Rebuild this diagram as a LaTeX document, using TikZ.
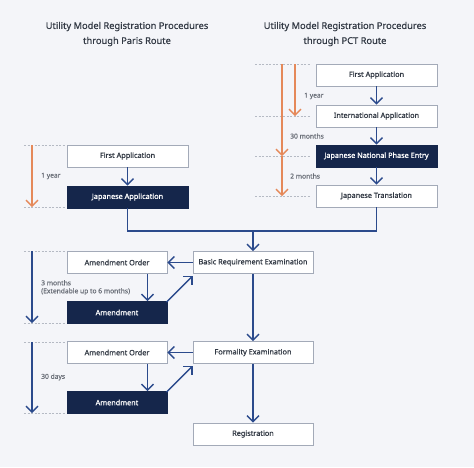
\documentclass[tikz,border=0pt]{standalone}
\usepackage{fontspec}
\setmainfont{Noto Sans}
\newfontfamily\medfont[FakeBold=0.9]{Noto Sans}
\newfontfamily\ttlfont[FakeBold=0.6]{Noto Sans}
\newfontfamily\labfont[FakeBold=0.4]{Noto Sans}
\usetikzlibrary{arrows.meta,calc}
\definecolor{bgc}{HTML}{F4F5F9}
\definecolor{navy}{HTML}{15264B}
\definecolor{lineblue}{HTML}{2B4A8C}
\definecolor{orng}{HTML}{E5895A}
\definecolor{boxgrey}{HTML}{A3AAB8}
\definecolor{txt}{HTML}{333A45}
\definecolor{lbl}{HTML}{6A6F78}
\definecolor{dashc}{HTML}{B5BAC4}
\tikzset{
  box/.style={draw=boxgrey, fill=white, line width=0.8pt, minimum height=22pt, inner sep=0pt,
    font=\medfont\fontsize{7.3}{8.5}\selectfont, text=txt},
  darkbox/.style={box, draw=navy, fill=navy, text=white},
  wbox/.style={minimum width=121pt},
  nbox/.style={minimum width=100pt},
  arr/.style={draw=lineblue, line width=1.4pt, -{Straight Barb[length=6pt,width=12pt,line width=1.4pt]}},
  flow/.style={draw=lineblue, line width=1.4pt},
  oarr/.style={draw=orng, line width=1.3pt, -{Straight Barb[length=6pt,width=12pt,line width=1.3pt]}},
  barr/.style={draw=lineblue, line width=1.3pt, -{Straight Barb[length=6pt,width=12pt,line width=1.3pt]}},
  guide/.style={draw=dashc, line width=0.6pt, dash pattern=on 2pt off 1.5pt},
  lab/.style={font=\labfont\fontsize{6.7}{8}\selectfont, text=lbl, anchor=west, inner sep=0pt, align=left},
  title/.style={font=\ttlfont\fontsize{9.3}{15}\selectfont, text=txt, align=center}
}
\begin{document}
\begin{tikzpicture}[x=1pt,y=-1pt]
\fill[bgc] (0,0) rectangle (474,467);
\useasboundingbox (0,0) rectangle (474,467);

% titles
\node[title] (t1) at (127,34) {Utility Model Registration Procedures\\through Paris Route};
\node[title] (t2) at (345,34) {Utility Model Registration Procedures\\through PCT Route};

% left (Paris) column
\node[box,wbox] (pFA) at (127.5,156) {First Application};
\node[darkbox,wbox] (pJA) at (127.5,197) {Japanese Application};

% right (PCT) column
\node[box,wbox] (cFA) at (376.5,75) {First Application};
\node[box,wbox] (cIA) at (376.5,116) {International Application};
\node[darkbox,wbox] (cNPE) at (376.5,156) {Japanese National Phase Entry};
\node[box,wbox] (cJT) at (376.5,196) {Japanese Translation};

% examination
\node[box,minimum width=120pt] (BRE) at (253,262.5) {Basic Requirement Examination};
\node[box,nbox] (AO1) at (117,262.5) {Amendment Order};
\node[darkbox,nbox] (AM1) at (117,312.5) {Amendment};
\node[box,minimum width=120pt] (FE) at (253,352.5) {Formality Examination};
\node[box,nbox] (AO2) at (117,352.5) {Amendment Order};
\node[darkbox,nbox] (AM2) at (117,402.5) {Amendment};
\node[box,minimum width=120pt] (REG) at (253,434) {Registration};

% flow arrows
\draw[arr] (pFA) -- (pJA);
\draw[arr] (cFA) -- (cIA);
\draw[arr] (cIA) -- (cNPE);
\draw[arr] (cNPE) -- (cJT);
\coordinate (jn) at (253,231);
\draw[flow] (pJA.south) |- (jn) -| (cJT.south);
\draw[arr] (jn) -- (BRE.north);
\draw[arr] (BRE.west) -- (AO1.east);
\draw[arr] ([xshift=-20pt]AO1.south east) -- ([xshift=-20pt]AM1.north east);
\draw[arr] ([xshift=-1pt,yshift=-1pt]AM1.north east) -- ([yshift=-2pt]BRE.south west);
\draw[arr] (BRE.south) -- (FE.north);
\draw[arr] (FE.west) -- (AO2.east);
\draw[arr] ([xshift=-20pt]AO2.south east) -- ([xshift=-20pt]AM2.north east);
\draw[arr] ([xshift=-1pt,yshift=-1pt]AM2.north east) -- ([yshift=-2pt]FE.south west);
\draw[arr] (FE.south) -- (REG.north);

% guide lines, left
\coordinate (gl1a) at (24,145); \coordinate (gl1b) at (65,145);
\coordinate (gl2a) at (24,207); \coordinate (gl2b) at (65,207);
\coordinate (gl3a) at (24,251); \coordinate (gl3b) at (65,251);
\coordinate (gl4a) at (24,323); \coordinate (gl4b) at (65,323);
\coordinate (gl5a) at (24,342); \coordinate (gl5b) at (65,342);
\coordinate (gl6a) at (24,413); \coordinate (gl6b) at (65,413);
\foreach \g in {gl1,gl2,gl3,gl4,gl5,gl6} \draw[guide] (\g a) -- (\g b);
% guide lines, right
\coordinate (gr1a) at (255,64); \coordinate (gr1b) at (310,64);
\coordinate (gr2a) at (255,116); \coordinate (gr2b) at (310,116);
\coordinate (gr3a) at (255,156); \coordinate (gr3b) at (310,156);
\coordinate (gr4a) at (255,196); \coordinate (gr4b) at (310,196);
\foreach \g in {gr1,gr2,gr3,gr4} \draw[guide] (\g a) -- (\g b);

% period arrows, left
\coordinate (p1s) at (32,145); \coordinate (p1e) at (32,207);
\draw[oarr] (p1s) -- (p1e);
\node[lab] (l1) at (41,176) {1 year};
\coordinate (p2s) at (32,251); \coordinate (p2e) at (32,323);
\draw[barr] (p2s) -- (p2e);
\node[lab] (l2) at (41,287.5) {3 months\\(Extendable up to 6 months)};
\coordinate (p3s) at (32,342); \coordinate (p3e) at (32,413);
\draw[barr] (p3s) -- (p3e);
\node[lab] (l3) at (41,377) {30 days};

% period arrows, right
\coordinate (q1s) at (295,64); \coordinate (q1e) at (295,116);
\draw[oarr] (q1s) -- (q1e);
\node[lab] (l4) at (304,96) {1 year};
\coordinate (q2s) at (282,64); \coordinate (q2m) at (282,156); \coordinate (q2e) at (282,196);
\draw[oarr] (q2s) -- (q2m);
\draw[oarr] (q2m) -- (q2e);
\node[lab] (l5) at (290,136) {30 months};
\node[lab] (l6) at (290,176) {2 months};
\end{tikzpicture}
\end{document}
